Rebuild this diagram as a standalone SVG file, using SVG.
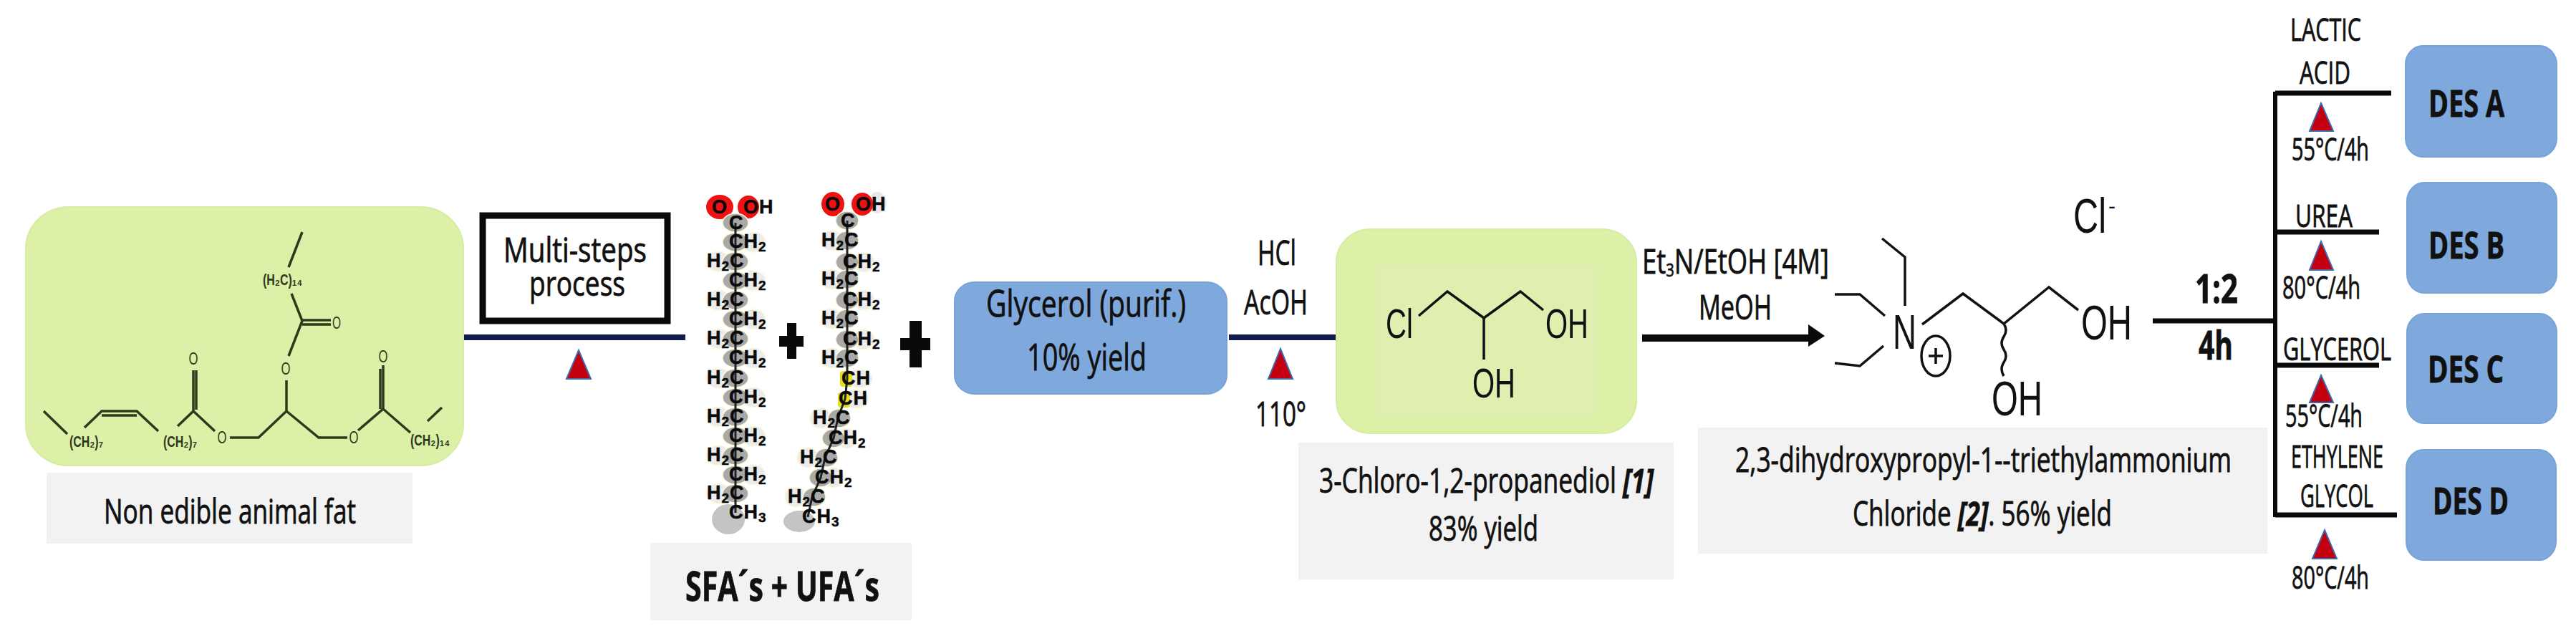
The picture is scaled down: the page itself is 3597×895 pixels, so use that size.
<svg xmlns="http://www.w3.org/2000/svg" width="3597" height="895" viewBox="0 0 3597 895">
<defs>
<style>
.t{font-family:"Open Sans","Liberation Sans",sans-serif;fill:#111;font-size:47px;stroke:#111;stroke-width:.8}
.sm{font-size:43px}
.lg{font-size:52px}
.b{font-weight:700}
.m{font-family:"Liberation Sans",Arial,sans-serif;fill:#111;font-size:58px}
.big{font-size:68px}
.c{font-family:"Liberation Sans",Arial,sans-serif;font-weight:700;font-size:27px;letter-spacing:1px;fill:#0a0a0a;stroke:#0a0a0a;stroke-width:.5}
.s{font-size:19px}
.gr{fill:#f2f2f2}
.green{fill:#dcf0a8;stroke:#d6eca0;stroke-width:2}
.blue{fill:#7fa9dc;stroke:#78a3d8;stroke-width:2}
.tri{fill:#c40010;stroke:#3f6aa8;stroke-width:2}
.bond{fill:none;stroke:#2d3a1c;stroke-width:3.5}
.mb{fill:none;stroke:#111;stroke-width:3.5}
.navy{stroke:#101c50;stroke-width:8;fill:none}
.blk{stroke:#0a0a0a;stroke-width:7;fill:none}
.cb{fill:#a9a9a9;stroke:#fbfbdc;stroke-width:1.5}
.hb{fill:#ececec;stroke:#fbfbdc;stroke-width:1.5}
.ob{fill:#f01212}
.fo{font-family:"Liberation Sans",Arial,sans-serif;fill:#2d3a1c;font-size:24px;text-anchor:middle}
.fl{font-family:"Liberation Sans",Arial,sans-serif;fill:#2d3a1c;font-weight:700;font-size:22px}
</style>
</defs>
<rect width="3597" height="895" fill="#fff"/>

<g id="connectors">
<path class="navy" d="M648 471H957"/>
<path class="navy" d="M1716 471H1866"/>
<path d="M2293 472H2527" stroke="#0a0a0a" stroke-width="10" fill="none"/>
<polygon points="2525,453 2548,469 2525,484" fill="#0a0a0a"/>
<path class="blk" d="M3006 448H3177"/>
<path d="M3177 128V722" stroke="#0a0a0a" stroke-width="6" fill="none"/>
<path class="blk" d="M3177 130H3339"/>
<path class="blk" d="M3177 324H3322"/>
<path class="blk" d="M3177 510H3322"/>
<path class="blk" d="M3177 719H3347"/>
</g>

<g id="animal-fat">
<rect class="green" x="36" y="289" width="611" height="361" rx="60" ry="58"/>
<path class="bond" d="M422 324L403 373M407 410L422 448M422 447L462 447M422 453L462 453M422 448L403 497M400 531V574L445 611H485M500 601L535 571V510M531 571V515M535 571L573 604M597 588L617 569M400 574L361 611H321M300 602L270 574V517M274 572V517M270 574L248 595M221 602L191 574H142L118 597M191 580H142M94 606L61 574"/>
<text class="fo" x="470" y="459" textLength="12" lengthAdjust="spacingAndGlyphs">O</text>
<text class="fo" x="399" y="523" textLength="13" lengthAdjust="spacingAndGlyphs">O</text>
<text class="fo" x="270" y="509" textLength="13" lengthAdjust="spacingAndGlyphs">O</text>
<text class="fo" x="535" y="506" textLength="13" lengthAdjust="spacingAndGlyphs">O</text>
<text class="fo" x="310" y="619" textLength="13" lengthAdjust="spacingAndGlyphs">O</text>
<text class="fo" x="494" y="619" textLength="13" lengthAdjust="spacingAndGlyphs">O</text>
<text class="fl" x="367" y="398" textLength="55" lengthAdjust="spacingAndGlyphs">(H₂C)₁₄</text>
<text class="fl" x="97" y="624" textLength="47" lengthAdjust="spacingAndGlyphs">(CH₂)₇</text>
<text class="fl" x="228" y="624" textLength="47" lengthAdjust="spacingAndGlyphs">(CH₂)₇</text>
<text class="fl" x="573" y="622" textLength="55" lengthAdjust="spacingAndGlyphs">(CH₂)₁₄</text>
<rect class="gr" x="65" y="660" width="511" height="99"/>
<text class="t" x="145" y="731" textLength="352" lengthAdjust="spacingAndGlyphs">Non edible animal fat</text>
</g>

<g id="multi-steps">
<rect x="674" y="301" width="258" height="147" fill="#fff" stroke="#0a0a0a" stroke-width="9"/>
<text class="t" x="703" y="366" textLength="200" lengthAdjust="spacingAndGlyphs">Multi-steps</text>
<text class="t" x="739" y="413" textLength="134" lengthAdjust="spacingAndGlyphs">process</text>
<polygon class="tri" points="808,489 825,529 791,529"/>
</g>

<g id="fatty-acids">
<g>
<ellipse class="ob" cx="1005" cy="289" rx="19" ry="17"/><ellipse class="ob" cx="1045" cy="289" rx="15" ry="16"/>
<ellipse class="cb" cx="1027" cy="311" rx="18" ry="13"/>
<ellipse class="hb" cx="1052" cy="338" rx="17" ry="14"/><ellipse class="cb" cx="1027" cy="338" rx="18" ry="13"/>
<ellipse class="hb" cx="1003" cy="365" rx="17" ry="14"/><ellipse class="cb" cx="1027" cy="365" rx="18" ry="13"/>
<ellipse class="hb" cx="1052" cy="392" rx="17" ry="14"/><ellipse class="cb" cx="1027" cy="392" rx="18" ry="13"/>
<ellipse class="hb" cx="1003" cy="419" rx="17" ry="14"/><ellipse class="cb" cx="1027" cy="419" rx="18" ry="13"/>
<ellipse class="hb" cx="1052" cy="446" rx="17" ry="14"/><ellipse class="cb" cx="1027" cy="446" rx="18" ry="13"/>
<ellipse class="hb" cx="1003" cy="473" rx="17" ry="14"/><ellipse class="cb" cx="1027" cy="473" rx="18" ry="13"/>
<ellipse class="hb" cx="1052" cy="500" rx="17" ry="14"/><ellipse class="cb" cx="1027" cy="500" rx="18" ry="13"/>
<ellipse class="hb" cx="1003" cy="528" rx="17" ry="14"/><ellipse class="cb" cx="1027" cy="528" rx="18" ry="13"/>
<ellipse class="hb" cx="1052" cy="555" rx="17" ry="14"/><ellipse class="cb" cx="1027" cy="555" rx="18" ry="13"/>
<ellipse class="hb" cx="1003" cy="582" rx="17" ry="14"/><ellipse class="cb" cx="1027" cy="582" rx="18" ry="13"/>
<ellipse class="hb" cx="1052" cy="609" rx="17" ry="14"/><ellipse class="cb" cx="1027" cy="609" rx="18" ry="13"/>
<ellipse class="hb" cx="1003" cy="636" rx="17" ry="14"/><ellipse class="cb" cx="1027" cy="636" rx="18" ry="13"/>
<ellipse class="hb" cx="1052" cy="663" rx="17" ry="14"/><ellipse class="cb" cx="1027" cy="663" rx="18" ry="13"/>
<ellipse class="hb" cx="1003" cy="689" rx="17" ry="14"/><ellipse class="cb" cx="1027" cy="689" rx="18" ry="13"/>
<ellipse cx="1017" cy="725" rx="23" ry="21" fill="#c4c4c4"/>
<path d="M1027 311V716" stroke="#222" stroke-width="3" fill="none"/>
<text class="c" x="994" y="298">O</text><text class="c" x="1038" y="298">OH</text>
<text class="c" x="1018" y="320">C</text>
<text class="c" x="1018" y="346">CH<tspan class="s" dy="5">2</tspan></text>
<text class="c" x="987" y="373">H<tspan class="s" dy="5">2</tspan><tspan dy="-5">C</tspan></text>
<text class="c" x="1018" y="400">CH<tspan class="s" dy="5">2</tspan></text>
<text class="c" x="987" y="427">H<tspan class="s" dy="5">2</tspan><tspan dy="-5">C</tspan></text>
<text class="c" x="1018" y="454">CH<tspan class="s" dy="5">2</tspan></text>
<text class="c" x="987" y="481">H<tspan class="s" dy="5">2</tspan><tspan dy="-5">C</tspan></text>
<text class="c" x="1018" y="508">CH<tspan class="s" dy="5">2</tspan></text>
<text class="c" x="987" y="536">H<tspan class="s" dy="5">2</tspan><tspan dy="-5">C</tspan></text>
<text class="c" x="1018" y="563">CH<tspan class="s" dy="5">2</tspan></text>
<text class="c" x="987" y="590">H<tspan class="s" dy="5">2</tspan><tspan dy="-5">C</tspan></text>
<text class="c" x="1018" y="617">CH<tspan class="s" dy="5">2</tspan></text>
<text class="c" x="987" y="644">H<tspan class="s" dy="5">2</tspan><tspan dy="-5">C</tspan></text>
<text class="c" x="1018" y="671">CH<tspan class="s" dy="5">2</tspan></text>
<text class="c" x="987" y="697">H<tspan class="s" dy="5">2</tspan><tspan dy="-5">C</tspan></text>
<text class="c" x="1018" y="724">CH<tspan class="s" dy="5">3</tspan></text>
</g>
<g>
<ellipse cx="1225" cy="283" rx="13" ry="15" fill="#e8e8e8"/>
<ellipse class="ob" cx="1163" cy="285" rx="16" ry="17"/><ellipse class="ob" cx="1204" cy="285" rx="15" ry="16"/>
<ellipse class="cb" cx="1183" cy="308" rx="16" ry="13"/>
<ellipse class="hb" cx="1161" cy="336" rx="15" ry="14"/><ellipse class="cb" cx="1183" cy="336" rx="16" ry="13"/>
<ellipse class="hb" cx="1206" cy="366" rx="15" ry="14"/><ellipse class="cb" cx="1183" cy="366" rx="16" ry="13"/>
<ellipse class="hb" cx="1161" cy="390" rx="15" ry="14"/><ellipse class="cb" cx="1183" cy="390" rx="16" ry="13"/>
<ellipse class="hb" cx="1206" cy="419" rx="15" ry="14"/><ellipse class="cb" cx="1183" cy="419" rx="16" ry="13"/>
<ellipse class="hb" cx="1161" cy="445" rx="15" ry="14"/><ellipse class="cb" cx="1183" cy="445" rx="16" ry="13"/>
<ellipse class="hb" cx="1206" cy="474" rx="15" ry="14"/><ellipse class="cb" cx="1183" cy="474" rx="16" ry="13"/>
<ellipse class="hb" cx="1161" cy="500" rx="15" ry="14"/><ellipse class="cb" cx="1183" cy="500" rx="16" ry="13"/>
<ellipse class="hb" cx="1200" cy="529" rx="18" ry="13"/><ellipse class="hb" cx="1195" cy="557" rx="18" ry="13"/>
<ellipse class="hb" cx="1146" cy="584" rx="15" ry="14"/><ellipse class="cb" cx="1172" cy="584" rx="16" ry="13"/>
<ellipse class="hb" cx="1182" cy="612" rx="15" ry="14"/><ellipse class="cb" cx="1164" cy="612" rx="16" ry="13"/>
<ellipse class="hb" cx="1128" cy="639" rx="15" ry="14"/><ellipse class="cb" cx="1154" cy="639" rx="16" ry="13"/>
<ellipse class="hb" cx="1164" cy="667" rx="15" ry="14"/><ellipse class="cb" cx="1146" cy="667" rx="16" ry="13"/>
<ellipse class="hb" cx="1111" cy="694" rx="15" ry="14"/><ellipse class="cb" cx="1137" cy="694" rx="16" ry="13"/>
<ellipse cx="1116" cy="728" rx="22" ry="15" fill="#c4c4c4"/>
<rect x="1173" y="518" width="17" height="22" rx="4" fill="#e6e01c"/><rect x="1170" y="548" width="17" height="21" rx="4" fill="#e6e01c"/>
<path d="M1183 308V529L1180 557L1170 584L1164 612L1152 639L1146 667L1134 694L1128 722" stroke="#222" stroke-width="3" fill="none"/>
<text class="c" x="1152" y="294">O</text><text class="c" x="1195" y="294">OH</text>
<text class="c" x="1174" y="317">C</text>
<text class="c" x="1147" y="344">H<tspan class="s" dy="5">2</tspan><tspan dy="-5">C</tspan></text>
<text class="c" x="1177" y="374">CH<tspan class="s" dy="5">2</tspan></text>
<text class="c" x="1147" y="398">H<tspan class="s" dy="5">2</tspan><tspan dy="-5">C</tspan></text>
<text class="c" x="1177" y="427">CH<tspan class="s" dy="5">2</tspan></text>
<text class="c" x="1147" y="453">H<tspan class="s" dy="5">2</tspan><tspan dy="-5">C</tspan></text>
<text class="c" x="1177" y="482">CH<tspan class="s" dy="5">2</tspan></text>
<text class="c" x="1147" y="508">H<tspan class="s" dy="5">2</tspan><tspan dy="-5">C</tspan></text>
<text class="c" x="1175" y="537">CH</text>
<text class="c" x="1171" y="565">CH</text>
<text class="c" x="1135" y="592">H<tspan class="s" dy="5">2</tspan><tspan dy="-5">C</tspan></text>
<text class="c" x="1157" y="620">CH<tspan class="s" dy="5">2</tspan></text>
<text class="c" x="1117" y="647">H<tspan class="s" dy="5">2</tspan><tspan dy="-5">C</tspan></text>
<text class="c" x="1138" y="675">CH<tspan class="s" dy="5">2</tspan></text>
<text class="c" x="1100" y="702">H<tspan class="s" dy="5">2</tspan><tspan dy="-5">C</tspan></text>
<text class="c" x="1120" y="730">CH<tspan class="s" dy="5">3</tspan></text>
</g>
<rect class="gr" x="908" y="758" width="365" height="108"/>
<text class="t b" x="957" y="839" style="font-size:58px" textLength="271" lengthAdjust="spacingAndGlyphs">SFA´s + UFA´s</text>
</g>

<g id="plus-signs" fill="#0a0a0a">
<path d="M1099 451h13v18h10v15h-10v17h-13v-17h-11v-15h11z"/>
<path d="M1270 448h17v24h12v17h-12v24h-17v-24h-13v-17h13z"/>
</g>

<g id="glycerol">
<rect class="blue" x="1333" y="394" width="380" height="156" rx="28" ry="26"/>
<text class="t lg" x="1377" y="442" textLength="279" lengthAdjust="spacingAndGlyphs">Glycerol (purif.)</text>
<text class="t lg" x="1434" y="517" textLength="167" lengthAdjust="spacingAndGlyphs">10% yield</text>
</g>

<g id="hcl-conditions">
<text class="t" x="1756" y="370" textLength="54" lengthAdjust="spacingAndGlyphs">HCl</text>
<text class="t" x="1737" y="439" textLength="89" lengthAdjust="spacingAndGlyphs">AcOH</text>
<polygon class="tri" points="1788,487 1805,529 1771,529"/>
<text class="t" x="1753" y="595" textLength="71" lengthAdjust="spacingAndGlyphs">110°</text>
</g>

<g id="chloropropanediol">
<rect class="green" x="1866" y="320" width="419" height="285" rx="48" ry="46"/>
<rect x="1922" y="370" width="306" height="211" fill="#deefb0"/>
<path class="mb" d="M1981 441L2021 407L2072 444L2123 407L2155 433M2072 444V502"/>
<text class="m" x="1935" y="472" textLength="38" lengthAdjust="spacingAndGlyphs">Cl</text>
<text class="m" x="2158" y="472" textLength="60" lengthAdjust="spacingAndGlyphs">OH</text>
<text class="m" x="2056" y="555" textLength="60" lengthAdjust="spacingAndGlyphs">OH</text>
<rect class="gr" x="1813" y="618" width="524" height="191"/>
<text class="t" x="1842" y="688" textLength="467" lengthAdjust="spacingAndGlyphs">3-Chloro-1,2-propanediol <tspan class="b" font-style="italic">[1]</tspan></text>
<text class="t" x="1995" y="755" textLength="153" lengthAdjust="spacingAndGlyphs">83% yield</text>
</g>

<g id="amine-conditions">
<text class="t" x="2293" y="382" textLength="261" lengthAdjust="spacingAndGlyphs">Et<tspan style="font-size:26px" dy="4">3</tspan><tspan dy="-4">N/EtOH [4M]</tspan></text>
<text class="t" x="2372" y="446" textLength="102" lengthAdjust="spacingAndGlyphs">MeOH</text>
</g>

<g id="ammonium-product">
<path class="mb" d="M2628 333L2660 359V427M2562 411H2597L2632 441M2562 507L2597 511L2630 483M2684 453L2741 410L2798 452L2861 401L2902 433"/>
<path class="mb" d="M2798 452q6 9 0 18q-6 9 0 18q6 9 0 18q-6 9 0 19"/>
<text class="m big" x="2643" y="487" textLength="33" lengthAdjust="spacingAndGlyphs">N</text>
<ellipse class="mb" cx="2703" cy="497" rx="20" ry="28"/>
<path class="mb" d="M2703 486V508M2693 497H2713"/>
<text class="m big" x="2906" y="474" textLength="71" lengthAdjust="spacingAndGlyphs">OH</text>
<text class="m big" x="2781" y="580" textLength="71" lengthAdjust="spacingAndGlyphs">OH</text>
<text class="m big" x="2895" y="325" textLength="46" lengthAdjust="spacingAndGlyphs">Cl</text>
<text class="m" x="2944" y="298" style="font-size:30px">-</text>
<rect class="gr" x="2371" y="597" width="795" height="176"/>
<text class="t" x="2423" y="659" textLength="693" lengthAdjust="spacingAndGlyphs">2,3-dihydroxypropyl-1--triethylammonium</text>
<text class="t" x="2587" y="734" textLength="362" lengthAdjust="spacingAndGlyphs">Chloride <tspan class="b" font-style="italic">[2]</tspan>. 56% yield</text>
</g>

<g id="ratio-label">
<text class="t b" x="3065" y="423" style="font-size:56px" textLength="60" lengthAdjust="spacingAndGlyphs">1:2</text>
<text class="t b" x="3070" y="502" style="font-size:56px" textLength="48" lengthAdjust="spacingAndGlyphs">4h</text>
</g>

<g id="lactic-acid">
<text class="t sm" x="3198" y="57" textLength="99" lengthAdjust="spacingAndGlyphs">LACTIC</text>
<text class="t sm" x="3211" y="117" textLength="71" lengthAdjust="spacingAndGlyphs">ACID</text>
<polygon class="tri" points="3241,144 3258,183 3225,183"/>
<text class="t sm" x="3200" y="224" textLength="108" lengthAdjust="spacingAndGlyphs">55°C/4h</text>
</g>
<g id="urea">
<text class="t sm" x="3205" y="317" textLength="80" lengthAdjust="spacingAndGlyphs">UREA</text>
<polygon class="tri" points="3241,337 3258,377 3225,377"/>
<text class="t sm" x="3187" y="417" textLength="109" lengthAdjust="spacingAndGlyphs">80°C/4h</text>
</g>
<g id="glycerol-hba">
<text class="t sm" x="3188" y="503" textLength="151" lengthAdjust="spacingAndGlyphs">GLYCEROL</text>
<polygon class="tri" points="3241,524 3258,562 3225,562"/>
<text class="t sm" x="3191" y="596" textLength="108" lengthAdjust="spacingAndGlyphs">55°C/4h</text>
</g>
<g id="ethylene-glycol">
<text class="t sm" x="3199" y="653" textLength="129" lengthAdjust="spacingAndGlyphs">ETHYLENE</text>
<text class="t sm" x="3212" y="708" textLength="102" lengthAdjust="spacingAndGlyphs">GLYCOL</text>
<polygon class="tri" points="3246,740 3263,780 3229,780"/>
<text class="t sm" x="3200" y="822" textLength="108" lengthAdjust="spacingAndGlyphs">80°C/4h</text>
</g>

<g id="des-a">
<rect class="blue" x="3359" y="64" width="211" height="155" rx="24" ry="26"/>
<text class="t b" x="3391" y="163" style="font-size:52px" textLength="106" lengthAdjust="spacingAndGlyphs">DES A</text>
</g>
<g id="des-b">
<rect class="blue" x="3361" y="255" width="209" height="154" rx="24" ry="26"/>
<text class="t b" x="3391" y="361" style="font-size:52px" textLength="106" lengthAdjust="spacingAndGlyphs">DES B</text>
</g>
<g id="des-c">
<rect class="blue" x="3361" y="438" width="209" height="153" rx="24" ry="26"/>
<text class="t b" x="3390" y="534" style="font-size:52px" textLength="106" lengthAdjust="spacingAndGlyphs">DES C</text>
</g>
<g id="des-d">
<rect class="blue" x="3360" y="628" width="209" height="154" rx="24" ry="26"/>
<text class="t b" x="3397" y="718" style="font-size:52px" textLength="106" lengthAdjust="spacingAndGlyphs">DES D</text>
</g>
</svg>
